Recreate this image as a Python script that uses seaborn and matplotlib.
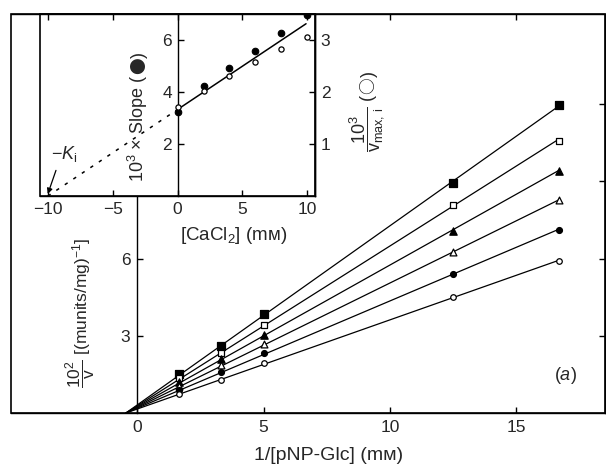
import matplotlib
matplotlib.use("Agg")
import matplotlib.pyplot as plt
from matplotlib.patches import Rectangle
import numpy as np
import seaborn as sns

sns.set_theme(style="white")
plt.rcParams["font.family"] = ["Liberation Sans", "DejaVu Sans"]
plt.rcParams["mathtext.fontset"] = "custom"
plt.rcParams["mathtext.rm"] = "Liberation Sans"
plt.rcParams["mathtext.it"] = "Liberation Sans:italic"
plt.rcParams["axes.unicode_minus"] = True

# main plot: 1/[pNP-Glc] (mM) vs 10^2/v
inv_s = [1.67, 3.33, 5.0, 12.5, 16.67]
v_sq_filled = [1.50, 2.60, 3.85, 8.94, 11.96]
v_sq_open = [1.35, 2.35, 3.42, 8.09, 10.58]
v_tri_filled = [1.20, 2.10, 3.05, 7.09, 9.42]
v_tri_open = [1.05, 1.85, 2.68, 6.25, 8.26]
v_circ_filled = [0.90, 1.60, 2.32, 5.41, 7.10]
v_circ_open = [0.75, 1.30, 1.95, 4.51, 5.89]
x_common = -0.45  # where the fitted lines meet the x axis
main_yticks = [3, 6, 9, 12]
main_yticklabels = ["3", "6", "", ""]  # 9 and 12 sit under the inset

# inset: [CaCl2] (mM)
cacl2 = [0, 2, 4, 6, 8, 10]
slope_x1e3 = [3.25, 4.25, 4.94, 5.58, 6.28, 6.96]
inv_vmax_x1e3 = [1.72, 2.03, 2.31, 2.58, 2.83, 3.06]
ki = 10.0
fit_at_zero = 3.33
fit_end = 9.9

series = [
    (v_sq_filled, "s", True, 26),
    (v_sq_open, "s", False, 20),
    (v_tri_filled, "^", True, 28),
    (v_tri_open, "^", False, 24),
    (v_circ_filled, "o", True, 18),
    (v_circ_open, "o", False, 16),
]


def chain_up(ax, pos, parts, size):
    # vertical label from pieces sharing one baseline, stacked upward
    t = None
    for txt, fam, fs in parts:
        kw = {"family": fam} if fam else {}
        if t is None:
            t = ax.text(pos[0], pos[1], txt, transform=ax.transAxes,
                        rotation=90, rotation_mode="anchor", ha="left",
                        va="baseline", fontsize=fs or size, **kw)
        else:
            t = ax.annotate(txt, xy=(pos[0], 1.0),
                            xycoords=(ax.transAxes, t), rotation=90,
                            rotation_mode="anchor", ha="left",
                            va="baseline", fontsize=fs or size, **kw)
    return t


fig = plt.figure(figsize=(6.06, 4.68), dpi=100)
ax = fig.add_axes([0.018, 0.1175, 0.98, 0.8525])

xs = np.array(inv_s)
for vals, mk, filled, size in series:
    ys = np.array(vals)
    k = np.sum(ys * (xs - x_common)) / np.sum((xs - x_common) ** 2)
    sns.lineplot(x=[x_common, xs.max()], y=[0, k * (xs.max() - x_common)],
                 ax=ax, color="black", lw=0.9, zorder=2)
    sns.scatterplot(x=inv_s, y=vals, ax=ax, marker=mk, s=size,
                    color="black" if filled else "white",
                    edgecolor="black", linewidth=0.9, zorder=3)

ax.set_xlim(-5, 18.5)
ax.set_ylim(0, 15.5)
ax.set_xticks([0, 5, 10, 15])
ax.set_yticks(main_yticks)
ax.set_yticklabels(main_yticklabels)
for side in ["top", "right", "bottom", "left"]:
    ax.spines[side].set_visible(True)
    ax.spines[side].set_color("black")
    ax.spines[side].set_linewidth(1.0)
ax.spines["left"].set_position(("data", 0))
ax.add_patch(Rectangle((0, 0), 1, 1, transform=ax.transAxes, fill=False,
                       lw=1.2, ec="black", clip_on=False, zorder=5))
ax.tick_params(axis="both", direction="in", length=4, width=1.0, color="black",
               labelsize=12.5, top=True, right=True, bottom=True, left=True,
               labeltop=False, labelright=False, pad=5)
ax.set_xlabel("")
ax.set_ylabel("")
ax.text(0.535, -0.107, "1/[pNP-Glc] (m\u1d0d)", transform=ax.transAxes,
        ha="center", va="center", fontsize=14)
ax.text(0.118, 0.25, r"$\dfrac{10^2}{\mathrm{v}}$ [(munits/mg)$^{-1}$]",
        transform=ax.transAxes, rotation=90, ha="center", va="center",
        fontsize=12.5)
ax.text(0.933, 0.095, r"($\it{a}$)", transform=ax.transAxes,
        ha="center", va="center", fontsize=13)

# inset
axi = fig.add_axes([0.066, 0.581, 0.454, 0.389])
axi.set_facecolor("white")
sns.lineplot(x=[0, fit_end], y=[fit_at_zero, fit_at_zero * (1 + fit_end / ki)],
             ax=axi, color="black", lw=1.1, zorder=2)
sns.lineplot(x=[-ki, 0], y=[0, fit_at_zero], ax=axi, color="black", lw=1.1,
             zorder=2)
axi.lines[-1].set_linestyle((0, (2.2, 4.5)))
sns.scatterplot(x=cacl2, y=slope_x1e3, ax=axi, marker="o", s=22,
                color="black", edgecolor="black", linewidth=0.8, zorder=3)
sns.scatterplot(x=cacl2, y=[2 * v for v in inv_vmax_x1e3], ax=axi, marker="o",
                s=14, color="white", edgecolor="black", linewidth=0.9, zorder=3)
axi.set_xlim(-10.6, 10.6)
axi.set_ylim(0, 7)
axi.set_xticks([-10, -5, 0, 5, 10])
axi.set_yticks([2, 4, 6])
for side in ["top", "right", "bottom", "left"]:
    axi.spines[side].set_visible(True)
    axi.spines[side].set_color("black")
    axi.spines[side].set_linewidth(1.0)
axi.spines["left"].set_position(("data", 0))
axi.add_patch(Rectangle((0, 0), 1, 1, transform=axi.transAxes, fill=False,
                        lw=1.2, ec="black", clip_on=False, zorder=5))
axi.tick_params(axis="both", direction="in", length=4, width=1.0,
                color="black", labelsize=12.5, top=True, bottom=True,
                left=True, right=False, pad=4)
axi.set_xlabel("")
axi.set_ylabel("")
axi.text(0.705, -0.215, "[CaCl$_2$] (m\u1d0d)", transform=axi.transAxes,
         ha="center", va="center", fontsize=13.5)
chain_up(axi, (0.378, 0.08), [
    ("10$^3$ \u00d7 Slope (", None, None),
    ("\u25cf", "Noto Sans CJK JP", 12),
    (")", None, None),
], 13)
axi.annotate(r"$-K_{\rm i}$", xy=(-10, 0.08), xytext=(-8.7, 1.6),
             ha="center", va="center", fontsize=13,
             arrowprops=dict(arrowstyle="-|>", color="black", lw=0.9,
                             mutation_scale=8, shrinkA=2, shrinkB=0,
                             relpos=(0.25, 0.0)))

axr = axi.twinx()
axr.set_ylim(0, 3.5)
axr.set_yticks([1, 2, 3])
for side in ["top", "bottom", "left"]:
    axr.spines[side].set_visible(False)
axr.spines["right"].set_visible(True)
axr.spines["right"].set_color("black")
axr.spines["right"].set_linewidth(1.0)
axr.tick_params(axis="y", direction="in", length=4, width=1.0, color="black",
                labelsize=12.5, right=True, left=False, pad=4)
axr.grid(False)
chain_up(axi, (1.212, 0.24), [
    (r"$\dfrac{10^3}{\mathrm{v}_{\rm max,\,i}}$ (", None, None),
    ("\u25cb", "Noto Sans CJK JP", 12),
    (")", None, None),
], 13)

fig.savefig("out.png", dpi=100)
